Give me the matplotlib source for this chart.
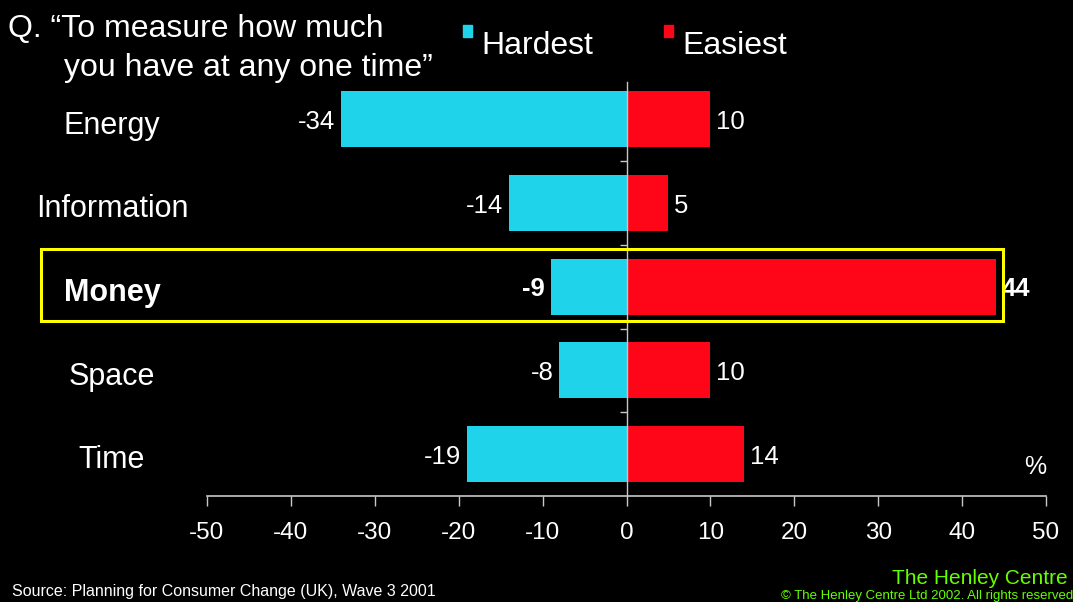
import matplotlib
matplotlib.use("Agg")
import matplotlib.pyplot as plt
import matplotlib.transforms as mtransforms
from matplotlib.patches import Rectangle

# Survey results: share of respondents naming each resource hardest / easiest
categories = ["Energy", "Information", "Money", "Space", "Time"]
hardest = [-34, -14, -9, -8, -19]
easiest = [10, 5, 44, 10, 14]
highlight = "Money"
xticks = [-50, -40, -30, -20, -10, 0, 10, 20, 30, 40, 50]

CYAN = "#1fd3ea"
RED = "#ff0518"
GREEN = "#66ff00"
AXIS = "#c8c8c8"
FONT = "Liberation Sans"

plt.rcParams["font.family"] = [FONT, "DejaVu Sans"]

fig = plt.figure(figsize=(10.73, 6.02), dpi=100, facecolor="black")
W, H = 1073, 602
ax = fig.add_axes([207 / W, 1 - 496 / H, (1046 - 207) / W, (496 - 77.5) / H])
ax.set_facecolor("black")

ypos = list(range(len(categories)))
ax.barh(ypos, hardest, height=0.67, color=CYAN, zorder=2)
ax.barh(ypos, easiest, height=0.67, color=RED, zorder=2)

ax.set_xlim(-50, 50)
ax.set_ylim(len(categories) - 0.5, -0.5)

# Axes styling: zero line as the vertical spine, tick scale along the bottom
for side in ("top", "right"):
    ax.spines[side].set_visible(False)
ax.spines["left"].set_position(("data", 0))
ax.spines["left"].set_bounds(len(categories) - 0.5, -0.45)
ax.spines["left"].set_color(AXIS)
ax.spines["left"].set_linewidth(1.0)
ax.spines["left"].set_zorder(3)
ax.spines["bottom"].set_color(AXIS)
ax.spines["bottom"].set_linewidth(1.2)

ax.set_xticks(xticks)
ax.set_xticklabels([str(v) for v in xticks])
ax.tick_params(axis="x", direction="out", length=7, width=1.0, color=AXIS,
               labelcolor="white", labelsize=17.5, pad=12)
ax.set_yticks([i + 0.5 for i in range(len(categories) - 1)])
ax.set_yticklabels([])
ax.tick_params(axis="y", direction="out", length=5, width=1.0, color=AXIS)

# Category names to the left of the plot
lab_tr = mtransforms.blended_transform_factory(fig.transFigure, ax.transData)
for i, cat in enumerate(categories):
    bold = cat == highlight
    ax.text(112 / W, i + 0.17, cat, transform=lab_tr, ha="center", va="baseline",
            color="white", fontsize=22, fontweight="bold" if bold else "normal",
            clip_on=False)

# Value labels at the bar ends
off = 0.7
for i, (h, e, cat) in enumerate(zip(hardest, easiest, categories)):
    w = "bold" if cat == highlight else "normal"
    ax.text(h - off, i, f"{h}", ha="right", va="center_baseline", color="white",
            fontsize=18.5, fontweight=w)
    ax.text(e + off, i, f"{e}", ha="left", va="center_baseline", color="white",
            fontsize=18.5, fontweight=w, clip_on=False)

# Frame around the highlighted row
hi = categories.index(highlight)
box = Rectangle((41 / W, hi - 0.455), (1003 - 41) / W, 0.87, transform=lab_tr,
                fill=False, edgecolor="#ffff00", linewidth=2.2, zorder=5,
                clip_on=False)
ax.add_patch(box)

ax.text(50, 4.15, "%", ha="right", va="center", color="white", fontsize=18)

# Question text
fig.text(8 / W, 1 - 37 / H, "Q. \u201cTo measure how much", color="white",
         fontsize=23, ha="left", va="baseline")
fig.text(64 / W, 1 - 76 / H, "you have at any one time\u201d", color="white",
         fontsize=23, ha="left", va="baseline")

# Legend
for x0, col, label in [(463, CYAN, "Hardest"), (664, RED, "Easiest")]:
    fig.patches.append(Rectangle((x0 / W, 1 - 37 / H), 9 / W, 12 / H,
                                 transform=fig.transFigure, color=col))
    fig.text((x0 + 18) / W, 1 - 54 / H, label, color="white", fontsize=23,
             ha="left", va="baseline")

# Footer
fig.text(12 / W, 1 - 596 / H, "Source: Planning for Consumer Change (UK), Wave 3 2001",
         color="white", fontsize=11.5, ha="left", va="baseline")
fig.text(1068 / W, 1 - 584 / H, "The Henley Centre", color=GREEN, fontsize=15,
         ha="right", va="baseline")
fig.text(1073 / W, 1 - 599 / H, "\u00a9 The Henley Centre Ltd 2002. All rights reserved",
         color=GREEN, fontsize=9.5, ha="right", va="baseline")

fig.savefig("out.png", dpi=100, facecolor="black")
